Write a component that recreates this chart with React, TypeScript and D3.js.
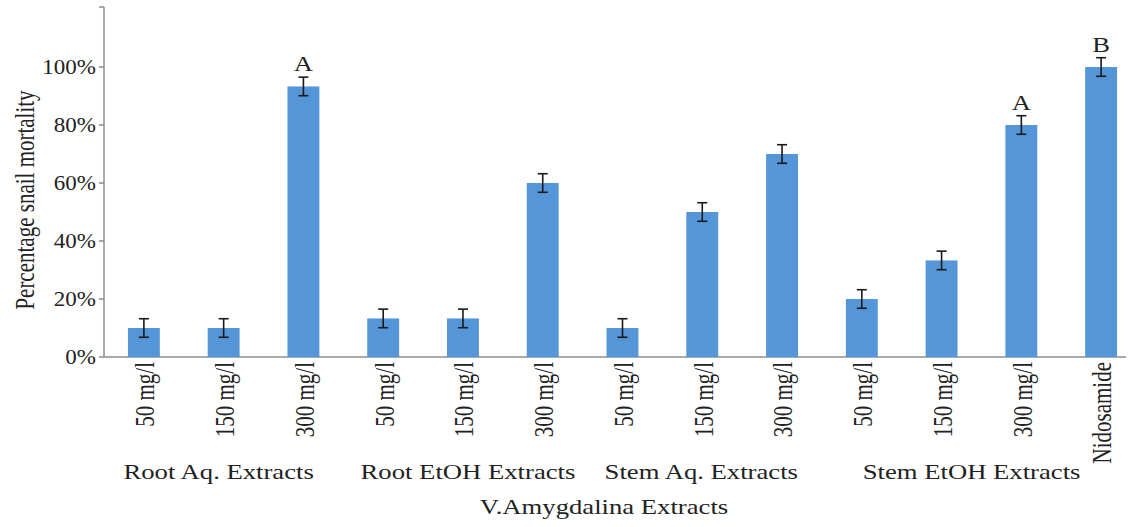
import React from "react";
import * as d3 from "d3";

const categories = [
  "50 mg/l", "150 mg/l", "300 mg/l",
  "50 mg/l", "150 mg/l", "300 mg/l",
  "50 mg/l", "150 mg/l", "300 mg/l",
  "50 mg/l", "150 mg/l", "300 mg/l",
  "Nidosamide",
];
const values = [10, 10, 93.3, 13.3, 13.3, 60, 10, 50, 70, 20, 33.3, 80, 100];
const errors = [3.2, 3.2, 3.2, 3.2, 3.2, 3.2, 3.2, 3.2, 3.2, 3.2, 3.2, 3.2, 3.2];
const letters = ["", "", "A", "", "", "", "", "", "", "", "", "A", "B"];
const groups = [
  { name: "Root Aq. Extracts", from: 0, to: 2, dx: -5 },
  { name: "Root EtOH Extracts", from: 3, to: 5, dx: 5 },
  { name: "Stem Aq. Extracts", from: 6, to: 8, dx: -1 },
  { name: "Stem EtOH Extracts", from: 9, to: 11, dx: 30 },
];
const yTicks = [0, 20, 40, 60, 80, 100];

const W = 1128, H = 527;
const FONT = "'Liberation Serif', 'Times New Roman', serif";
const SX = 1.27;

export default function App() {
  const x = d3.scaleBand<number>()
    .domain(d3.range(categories.length))
    .range([104, 1141])
    .paddingInner(0.6)
    .paddingOuter(0.3);
  const y = d3.scaleLinear().domain([0, 120]).range([357, 9]);
  const bw = x.bandwidth();
  const cx = (i: number) => (x(i) as number) + bw / 2;

  return (
    <svg width={W} height={H} style={{ position: "absolute", left: 0, top: 0, background: "#fff" }}
      fontFamily={FONT}>
      {/* axes */}
      <line x1={104} x2={104} y1={y(120) - 2} y2={y(0)} stroke="#8c8c8c" strokeWidth={1.5} />
      <line x1={104} x2={1126} y1={y(0)} y2={y(0)} stroke="#8c8c8c" strokeWidth={1.5} />
      {yTicks.map((t) => (
        <g key={t}>
          <line x1={99} x2={104} y1={y(t)} y2={y(t)} stroke="#8c8c8c" strokeWidth={1.5} />
          <text transform={`translate(96,${y(t)}) scale(${SX - 0.12},1)`} dy="0.35em" textAnchor="end" fontSize={20} fill="#222">{t}%</text>
        </g>
      ))}
      <line x1={104} x2={99} y1={y(120) - 2} y2={y(120) - 2} stroke="#8c8c8c" strokeWidth={1.5} />
      <text transform={`translate(34,${200}) scale(${SX},1) rotate(-90)`} textAnchor="middle" fontSize={21} fill="#222">
        Percentage snail mortality
      </text>

      {/* bars */}
      {values.map((v, i) => (
        <rect key={i} x={x(i)} y={y(v)} width={bw} height={y(0) - y(v)} fill="#5596d8" />
      ))}
      {/* error bars */}
      {values.map((v, i) => {
        const top = y(v + errors[i]);
        const bot = y(v - errors[i]);
        const c = cx(i);
        return (
          <g key={i} stroke="#1a1a1a" strokeWidth={1.6}>
            <line x1={c} x2={c} y1={top} y2={bot} />
            <line x1={c - 5} x2={c + 5} y1={top} y2={top} />
            <line x1={c - 5} x2={c + 5} y1={bot} y2={bot} />
          </g>
        );
      })}
      {letters.map((l, i) =>
        l ? (
          <text key={i} transform={`translate(${cx(i)},${y(values[i] + errors[i]) - 6}) scale(${SX},1)`}
            textAnchor="middle" fontSize={21} fill="#222">
            {l}
          </text>
        ) : null
      )}

      {/* category labels */}
      {categories.map((c, i) => (
        <text key={i} transform={`translate(${cx(i) + 1},${362}) scale(${SX},1) rotate(-90)`} textAnchor="end" dy="0.35em"
          fontSize={21} fill="#222">
          {c}
        </text>
      ))}
      {groups.map((g) => (
        <text key={g.name} transform={`translate(${(cx(g.from) + cx(g.to)) / 2 + g.dx},479) scale(${SX},1)`}
          textAnchor="middle" fontSize={21} fill="#222">
          {g.name}
        </text>
      ))}
      <text transform={`translate(604,514) scale(${SX},1)`} textAnchor="middle" fontSize={21} fill="#222">V.Amygdalina Extracts</text>
    </svg>
  );
}
